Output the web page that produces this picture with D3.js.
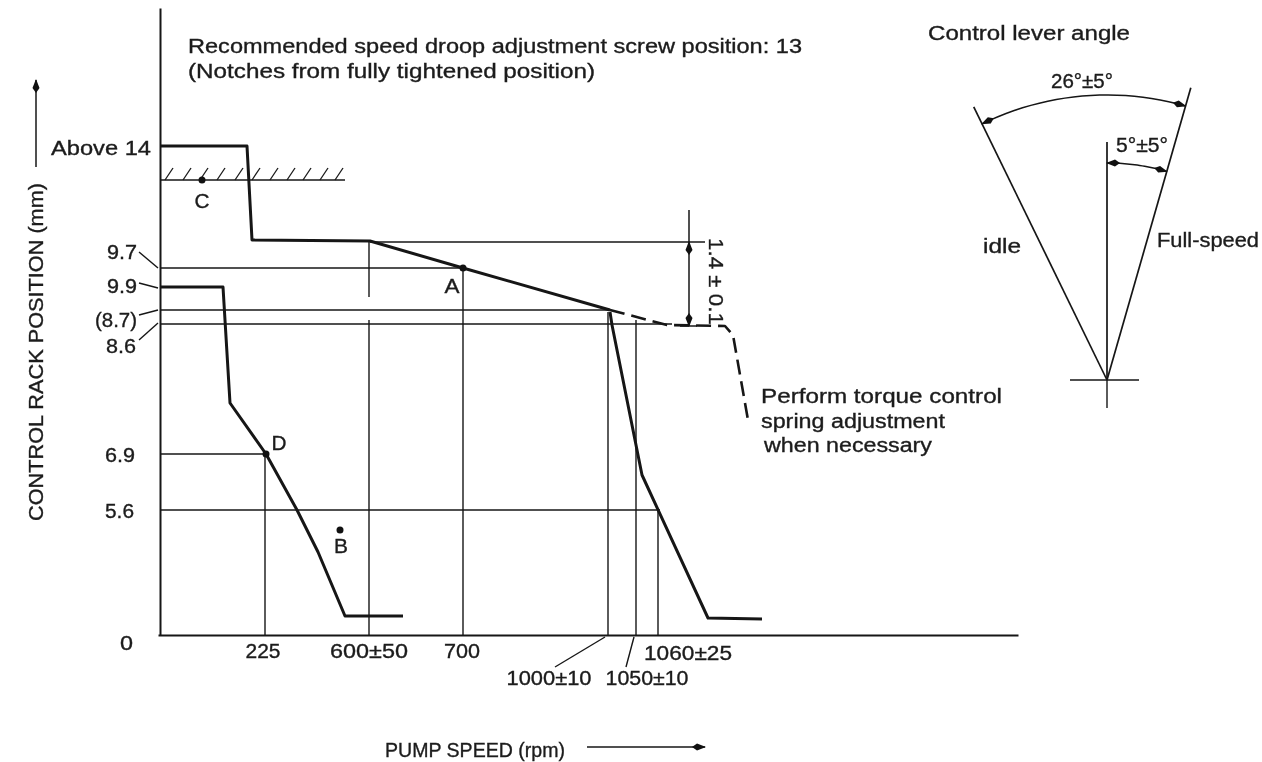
<!DOCTYPE html>
<html>
<head>
<meta charset="utf-8">
<script src="https://cdn.jsdelivr.net/npm/d3@7"></script>
<style>
  html, body { margin: 0; padding: 0; background: #fff; }
  svg { display: block; filter: blur(0.45px); }
  text { font-family: "Liberation Sans", Arial, sans-serif; font-size: 20px; fill: #1c1c1c; stroke: #1c1c1c; stroke-width: 0.35px; }
</style>
</head>
<body>
<div id="chart"></div>
<script>
// The original axes are not to scale (9.9 is drawn below 9.7), so values are
// read in schematic units along each axis, and the labels are kept separately.
var yTickLabels = ["Above 14", "9.7", "9.9", "(8.7)", "8.6", "6.9", "5.6", "0"];
var xTickLabels = ["225", "600±50", "700", "1000±10", "1050±10", "1060±25"];

var maxSpeedCurve = [[2, 489], [89, 489], [94, 395], [212, 394], [305, 367], [452, 325]];
var maxSpeedDashed = [[452, 325], [509, 310], [567, 309], [575, 300], [590, 215]];
var idleCurve = [[2, 348], [65, 348], [72, 232], [108, 181], [139, 125], [160, 83], [187, 19], [245, 19]];
var droopCurve = [[452, 323], [454, 310], [484, 160], [550, 17], [604, 16]];

var stopLevel = 455;
var stopEnd = 187;
var stopHatches = [7, 25, 42, 59, 77, 94, 112, 129, 145, 162, 177];

var pointDots = [[305, 367], [182, 105], [44, 455], [108, 181]];

// [from x, to x, y]
var guideH = [[212, 547, 393], [2, 305, 367], [2, 453, 325], [2, 514, 311], [2, 108, 181], [2, 502, 125]];
// [x, from y, to y]
var guideV = [[107, 0, 181], [211, 0, 315], [211, 338, 394], [305, 0, 367], [450, 0, 323], [478, 0, 315], [500, 0, 125]];

// leader lines for the labels on the left: [axis y, label end y]
var yLeaders = [[367, 383], [347, 352], [325, 320], [312, 295]];

var leverAngles = { idle: -26, full: 16, centre: 0 };
var leverLengths = { side: 304, centre: 238, wideArc: 285, narrowArc: 217 };

var width = 1262, height = 762;

var x = d3.scaleLinear().domain([0, 860]).range([158, 1018]);
var y = d3.scaleLinear().domain([0, 627]).range([635, 8]);

var line = d3.line()
  .x(function(d) { return x(d[0]); })
  .y(function(d) { return y(d[1]); });

var svg = d3.select("#chart").append("svg")
  .attr("width", width)
  .attr("height", height)
  .attr("viewBox", "0 0 " + width + " " + height);

svg.append("defs").append("marker")
  .attr("id", "head")
  .attr("viewBox", "0 0 14 8")
  .attr("refX", 13)
  .attr("refY", 4)
  .attr("markerWidth", 14)
  .attr("markerHeight", 8)
  .attr("markerUnits", "userSpaceOnUse")
  .attr("orient", "auto-start-reverse")
  .append("path")
  .attr("d", "M0,4L5,0.5L14,4L5,7.5Z")
  .attr("fill", "#111");

function drawLine(parent, data, strokeWidth, dash) {
  return parent.append("path")
    .attr("d", line(data))
    .attr("fill", "none")
    .attr("stroke", "#161616")
    .attr("stroke-width", strokeWidth)
    .attr("stroke-linejoin", "round")
    .attr("stroke-dasharray", dash || null);
}

// w is the width the text takes in the scan, the typeface there is wider than ours
function label(txt, px, py, w, anchor) {
  return svg.append("text")
    .attr("x", px)
    .attr("y", py)
    .attr("text-anchor", anchor || "start")
    .attr("textLength", w)
    .attr("lengthAdjust", "spacingAndGlyphs")
    .text(txt);
}

function styleAxis(g) {
  g.selectAll(".domain").attr("stroke", "#161616").attr("stroke-width", 2);
}
svg.append("g")
  .attr("transform", "translate(0," + y(0) + ")")
  .call(d3.axisBottom(x).tickValues([]).tickSizeOuter(0))
  .call(styleAxis);
svg.append("g")
  .attr("transform", "translate(" + x(2) + ",0)")
  .call(d3.axisLeft(y).tickValues([]).tickSizeOuter(0))
  .call(styleAxis);

var guides = svg.append("g");
guideH.forEach(function(d) {
  drawLine(guides, [[d[0], d[2]], [d[1], d[2]]], 1.5);
});
guideV.forEach(function(d) {
  drawLine(guides, [[d[0], d[1]], [d[0], d[2]]], 1.4);
});

// mechanical stop with hatching
var stop = svg.append("g");
drawLine(stop, [[2, stopLevel], [stopEnd, stopLevel]], 1.6);
stopHatches.forEach(function(h) {
  drawLine(stop, [[h, stopLevel], [h + 8, stopLevel + 12]], 1.3);
});

// curves
drawLine(svg, maxSpeedCurve, 3);
drawLine(svg, idleCurve, 3);
drawLine(svg, droopCurve, 3);
drawLine(svg, maxSpeedDashed, 2.6, "15 7");

pointDots.forEach(function(p) {
  svg.append("circle")
    .attr("cx", x(p[0]))
    .attr("cy", y(p[1]))
    .attr("r", 3.5)
    .attr("fill", "#111");
});

// 1.4 +- 0.1 dimension
var dimX = 531;
drawLine(svg, [[dimX, 425], [dimX, 393]], 1.5);
drawLine(svg, [[dimX, 345], [dimX, 393]], 1.5).attr("marker-end", "url(#head)");
drawLine(svg, [[dimX, 345], [dimX, 309]], 1.5).attr("marker-end", "url(#head)");
drawLine(svg, [[522, 309], [539, 309]], 1.5);

// left labels: right edge, baseline, width
var yLabelAt = [[151, 155, 100], [137, 259, 30], [137, 293, 30], [137, 327, 42], [136, 353, 30], [135, 462, 30], [134, 518, 29], [133, 650, 13]];
yTickLabels.forEach(function(t, i) {
  label(t, yLabelAt[i][0], yLabelAt[i][1], yLabelAt[i][2], "end");
});
yLeaders.forEach(function(d) {
  drawLine(svg, [[0, d[0]], [-19, d[1]]], 1.4);
});

// bottom labels: centre, baseline, width
var xLabelAt = [[263, 658, 35], [369, 658, 78], [462, 658, 36], [549, 685, 85], [647, 685, 83], [688, 660, 88]];
xTickLabels.forEach(function(t, i) {
  label(t, xLabelAt[i][0], xLabelAt[i][1], xLabelAt[i][2], "middle");
});
drawLine(svg, [[447, -2], [397, -32]], 1.4);
drawLine(svg, [[476, -2], [468, -32]], 1.4);

// point names
label("A", 452, 293, 15, "middle");
label("B", 341, 553, 14, "middle");
label("C", 202, 208, 15, "middle");
label("D", 279, 450, 15, "middle");

label("Recommended speed droop adjustment screw position: 13", 188, 53, 614);
label("(Notches from fully tightened position)", 188, 78, 407);
label("Perform torque control", 761, 403, 241);
label("spring adjustment", 761, 428, 184);
label("when necessary", 764, 452, 168);

svg.append("text")
  .attr("transform", "translate(709,238) rotate(90)")
  .attr("textLength", 87)
  .attr("lengthAdjust", "spacingAndGlyphs")
  .text("1.4 ± 0.1");

// axis titles and their arrows
svg.append("text")
  .attr("transform", "translate(43,521) rotate(-90)")
  .attr("textLength", 338)
  .attr("lengthAdjust", "spacingAndGlyphs")
  .text("CONTROL RACK POSITION (mm)");
label("PUMP SPEED (rpm)", 385, 757, 180);

svg.append("line")
  .attr("x1", 36).attr("y1", 167).attr("x2", 36).attr("y2", 80)
  .attr("stroke", "#161616").attr("stroke-width", 1.5)
  .attr("marker-end", "url(#head)");
svg.append("line")
  .attr("x1", 587).attr("y1", 747).attr("x2", 705).attr("y2", 747)
  .attr("stroke", "#161616").attr("stroke-width", 1.5)
  .attr("marker-end", "url(#head)");

// control lever angle sketch, angles in degrees from the vertical
var lever = svg.append("g").attr("transform", "translate(1107,380)");

function radial(angle, r) {
  return d3.pointRadial(angle * Math.PI / 180, r);
}

function leverLine(angle, r) {
  lever.append("line")
    .attr("x1", 0).attr("y1", 0)
    .attr("x2", radial(angle, r)[0])
    .attr("y2", radial(angle, r)[1])
    .attr("stroke", "#161616")
    .attr("stroke-width", 1.7);
}

function leverArc(a0, a1, r) {
  var steps = d3.range(a0, a1 + 0.01, (a1 - a0) / 24);
  lever.append("path")
    .attr("d", d3.line()(steps.map(function(a) { return radial(a, r); })))
    .attr("fill", "none")
    .attr("stroke", "#161616")
    .attr("stroke-width", 1.5)
    .attr("marker-start", "url(#head)")
    .attr("marker-end", "url(#head)");
}

leverLine(leverAngles.idle, leverLengths.side);
leverLine(leverAngles.full, leverLengths.side);
leverLine(leverAngles.centre, leverLengths.centre);
leverArc(leverAngles.idle, leverAngles.full, leverLengths.wideArc);
leverArc(leverAngles.centre, leverAngles.full, leverLengths.narrowArc);

lever.append("line").attr("x1", -37).attr("y1", 0).attr("x2", 32).attr("y2", 0)
  .attr("stroke", "#161616").attr("stroke-width", 1.6);
lever.append("line").attr("x1", 0).attr("y1", 0).attr("x2", 0).attr("y2", 28)
  .attr("stroke", "#161616").attr("stroke-width", 1.4);

label("Control lever angle", 928, 40, 202);
label("26°±5°", 1051, 88, 62);
label("5°±5°", 1116, 152, 52);
label("idle", 983, 253, 38);
label("Full-speed", 1157, 247, 102);
</script>
</body>
</html>
